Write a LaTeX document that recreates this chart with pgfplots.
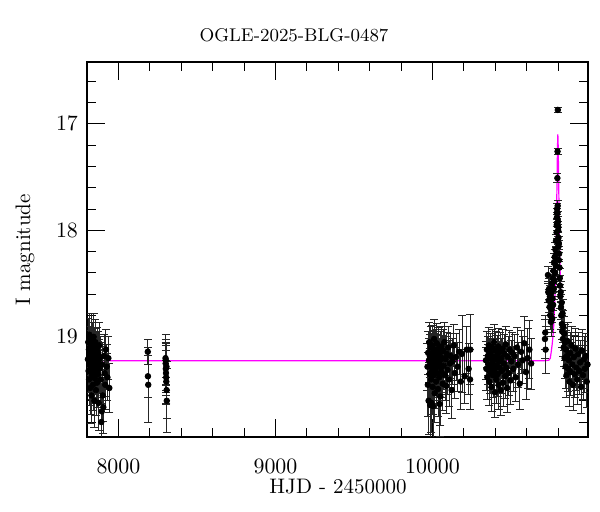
\documentclass[border=0pt]{standalone}
\usepackage{pgfplots}
\usepackage{pgfplotstable}
\pgfplotsset{compat=1.18}

\pgfplotstableread{
7806 19.21 0.19
7808 19.05 0.22
7810 19.32 0.20
7812 19.12 0.18
7813 19.40 0.24
7815 18.98 0.20
7817 19.26 0.21
7818 19.15 0.17
7820 19.48 0.25
7822 19.09 0.19
7823 19.30 0.22
7825 19.02 0.24
7827 19.18 0.18
7828 19.55 0.26
7830 19.22 0.20
7832 19.11 0.19
7833 19.36 0.23
7835 19.07 0.21
7837 19.28 0.20
7838 19.45 0.24
7840 19.16 0.18
7842 19.00 0.22
7843 19.33 0.21
7845 19.24 0.19
7847 19.60 0.25
7848 19.12 0.20
7850 19.39 0.23
7852 19.19 0.18
7853 19.05 0.21
7855 19.27 0.20
7857 19.50 0.24
7858 19.14 0.19
7860 19.31 0.22
7862 19.20 0.20
7864 19.43 0.23
7866 19.10 0.19
7868 19.25 0.21
7870 19.35 0.22
7872 19.15 0.20
7874 19.62 0.26
7876 19.22 0.20
7878 19.08 0.22
7880 19.30 0.21
7884 19.19 0.19
7888 19.40 0.22
7891 19.80 0.28
7894 19.70 0.26
7897 19.26 0.21
7900 19.55 0.24
7904 19.66 0.25
7908 19.18 0.20
7912 19.34 0.22
7916 19.45 0.23
7920 19.12 0.19
7925 19.28 0.21
7930 19.38 0.22
7936 19.20 0.20
7942 19.48 0.23
}\seasonA

\pgfplotstableread{
8187 19.14 0.12
8188 19.37 0.20
8190 19.45 0.35
8300 19.20 0.18
8301 19.25 0.20
8302 19.22 0.24
8302 19.30 0.22
8303 19.34 0.21
8304 19.38 0.25
8305 19.42 0.20
8306 19.28 0.22
8307 19.50 0.27
8308 19.60 0.30
}\seasonB

\pgfplotstableread{
9968 19.28 0.22
9970 19.45 0.30
9972 19.15 0.20
9975 19.60 0.32
9977 19.22 0.21
9979 19.05 0.19
9981 19.35 0.24
9983 19.18 0.20
9985 19.64 0.30
9987 19.27 0.23
9989 19.10 0.20
9991 19.40 0.25
9993 19.62 0.28
9995 19.20 0.21
9997 19.32 0.23
9999 19.08 0.19
10001 19.47 0.26
10003 19.24 0.22
10004 19.65 0.32
10005 19.14 0.20
10007 19.36 0.24
10010 19.02 0.18
10012 19.28 0.22
10014 19.53 0.27
10016 19.17 0.20
10018 19.30 0.23
10020 19.12 0.19
10023 19.42 0.25
10025 19.22 0.21
10027 19.06 0.19
10030 19.34 0.23
10032 19.19 0.21
10035 19.49 0.26
10037 19.26 0.22
10040 19.11 0.20
10043 19.38 0.24
10045 19.23 0.22
10046 19.63 0.30
10048 19.15 0.20
10050 19.56 0.27
10053 19.29 0.23
10056 19.09 0.19
10059 19.33 0.24
10062 19.20 0.21
10065 19.44 0.25
10068 19.13 0.20
10071 19.27 0.22
10075 19.05 0.19
10079 19.36 0.24
10083 19.21 0.21
10087 19.46 0.26
10091 19.16 0.20
10095 19.31 0.23
10100 19.10 0.20
10105 19.40 0.25
10110 19.25 0.22
10116 19.18 0.21
10122 19.50 0.27
10128 19.23 0.22
10135 19.08 0.20
10142 19.34 0.24
10150 19.19 0.22
10160 19.28 0.23
10170 19.14 0.21
10180 19.42 0.26
10188 19.16 0.36
10205 19.37 0.25
10218 19.12 0.22
10230 19.30 0.24
10239 19.40 0.28
10241 19.12 0.33
}\seasonC

\pgfplotstableread{
10340 19.22 0.18
10343 19.30 0.20
10346 19.12 0.17
10349 19.38 0.21
10352 19.18 0.18
10355 19.26 0.19
10358 19.08 0.17
10361 19.42 0.22
10364 19.20 0.18
10367 19.33 0.20
10370 19.15 0.18
10373 19.28 0.19
10376 19.47 0.23
10379 19.10 0.17
10382 19.24 0.19
10385 19.36 0.21
10388 19.19 0.18
10391 19.05 0.17
10394 19.31 0.20
10397 19.52 0.24
10400 19.21 0.19
10403 19.13 0.18
10406 19.40 0.22
10409 19.27 0.19
10412 19.17 0.18
10415 19.35 0.21
10418 19.09 0.17
10421 19.45 0.23
10424 19.23 0.19
10427 19.29 0.20
10430 19.14 0.18
10434 19.50 0.24
10438 19.20 0.19
10442 19.32 0.21
10446 19.11 0.18
10450 19.43 0.22
10454 19.25 0.19
10458 19.16 0.18
10462 19.37 0.21
10466 19.07 0.17
10470 19.29 0.20
10475 19.48 0.23
10480 19.19 0.19
10485 19.34 0.21
10490 19.12 0.18
10496 19.41 0.22
10502 19.23 0.20
10508 19.15 0.19
10515 19.30 0.21
10522 19.18 0.20
10530 19.38 0.23
10538 19.10 0.19
10546 19.26 0.21
10555 19.44 0.24
10564 19.14 0.20
10574 19.22 0.22
10584 19.06 0.25
10595 19.33 0.26
10606 19.20 0.28
10617 19.12 0.27
10628 19.25 0.24
}\seasonD

\pgfplotstableread{
10716 19.02 0.18
10718 18.96 0.16
10720 19.12 0.22
10735 18.42 0.08
10737 18.58 0.10
10740 18.66 0.11
10742 18.55 0.10
10745 18.72 0.12
10747 18.62 0.10
10750 18.80 0.13
10752 18.68 0.11
10754 18.86 0.14
10756 18.58 0.10
10758 18.74 0.12
10760 18.50 0.09
10762 18.83 0.13
10764 18.64 0.11
10766 18.45 0.09
10768 18.70 0.12
10770 18.38 0.08
10772 18.55 0.10
10774 18.30 0.08
10776 18.48 0.09
10778 18.25 0.07
10780 18.40 0.08
10782 18.18 0.07
10784 18.33 0.08
10786 18.10 0.06
10788 18.22 0.07
10790 18.02 0.06
10791 17.95 0.05
10792 17.88 0.05
10793 17.80 0.05
10794 17.84 0.05
10795 17.51 0.04
10796 17.26 0.03
10797 17.77 0.05
10798 16.87 0.02
10799 17.92 0.05
10800 18.00 0.06
10801 17.97 0.05
10802 18.07 0.06
10803 18.15 0.06
10804 18.12 0.06
10805 18.28 0.07
10806 18.22 0.07
10808 18.35 0.08
10810 18.45 0.09
10812 18.52 0.10
10814 18.62 0.11
10816 18.58 0.10
10818 18.72 0.12
10820 18.80 0.13
10822 18.68 0.12
10824 18.88 0.14
10826 18.95 0.15
10828 18.78 0.13
10830 19.02 0.16
10832 18.90 0.15
10835 19.10 0.18
10838 18.97 0.16
10841 19.20 0.19
10844 19.05 0.17
10847 19.28 0.20
10850 19.12 0.18
10853 19.36 0.21
10856 19.18 0.19
10860 19.04 0.18
10864 19.30 0.21
10868 19.22 0.20
10872 19.42 0.23
10876 19.15 0.19
10880 19.33 0.22
10885 19.08 0.18
10890 19.26 0.21
10895 19.45 0.24
10900 19.19 0.20
10905 19.35 0.22
10910 19.11 0.19
10916 19.29 0.21
10922 19.40 0.23
10928 19.16 0.20
10934 19.32 0.22
10940 19.24 0.21
10946 19.47 0.25
10952 19.13 0.20
10958 19.36 0.23
10964 19.21 0.21
10970 19.30 0.22
10976 19.18 0.21
10982 19.42 0.24
10987 19.26 0.22
}\seasonE

\pgfplotstableread{
7800 19.225
10700 19.225
10740 19.22
10750 19.20
10755 19.15
10762 19.07
10769 18.96
10774 18.83
10779 18.65
10784 18.35
10788 18.06
10792 17.62
10794 17.40
10796 17.20
10798 17.10
10800 17.20
10802 17.40
10804 17.62
10808 18.06
10812 18.35
10817 18.65
10822 18.83
10827 18.96
10834 19.07
10841 19.15
10846 19.20
10856 19.22
10890 19.225
10990 19.225
}\model

\begin{document}
\begin{tikzpicture}
\useasboundingbox (0,0) rectangle (300pt,256pt);
\begin{axis}[
  at={(43.5pt,37.5pt)}, anchor=south west,
  scale only axis, width=250.5pt, height=187.5pt,
  xmin=7800, xmax=10990,
  ymin=16.42, ymax=19.94,
  y dir=reverse,
  xtick={7000,8000,9000,10000,11000},
  ytick={16,17,18,19,20},
  scaled x ticks=false,
  scaled y ticks=false,
  minor x tick num=4,
  minor y tick num=4,
  major tick length=9pt,
  minor tick length=4.5pt,
  tick style={black, line width=0.45pt},
  axis line style={line width=0.55pt},
  /pgf/number format/set thousands separator={},
  xticklabel style={yshift=-7.5pt},
  yticklabel style={xshift=-1pt},
  tick label style={font=\fontsize{10.5}{12}\selectfont},
]
\addplot[color={rgb,255:red,255;green,0;blue,255}, line width=0.6pt] table[x index=0, y index=1] {\model};
\pgfplotsset{
  lcstyle/.style={only marks, mark=*, mark size=1.4pt, black,
    mark options={fill=black, draw=black},
    error bars/.cd, y dir=both, y explicit,
    error bar style={line width=0.4pt, black!85},
    error mark options={rotate=90, black!85, line width=0.4pt, mark size=2pt}}
}
\addplot[lcstyle] table[x index=0, y index=1, y error index=2] {\seasonA};
\addplot[lcstyle] table[x index=0, y index=1, y error index=2] {\seasonB};
\addplot[lcstyle] table[x index=0, y index=1, y error index=2] {\seasonC};
\addplot[lcstyle] table[x index=0, y index=1, y error index=2] {\seasonD};
\addplot[lcstyle] table[x index=0, y index=1, y error index=2] {\seasonE};
\end{axis}
\node[font=\fontsize{9.2}{11}\selectfont] at (147pt,238.5pt) {OGLE-2025-BLG-0487};
\node[font=\fontsize{10.5}{12}\selectfont] at (169pt,12.5pt) {HJD - 2450000};
\node[font=\fontsize{10.5}{12}\selectfont, rotate=90] at (12.5pt,131pt) {I magnitude};
\end{tikzpicture}
\end{document}
